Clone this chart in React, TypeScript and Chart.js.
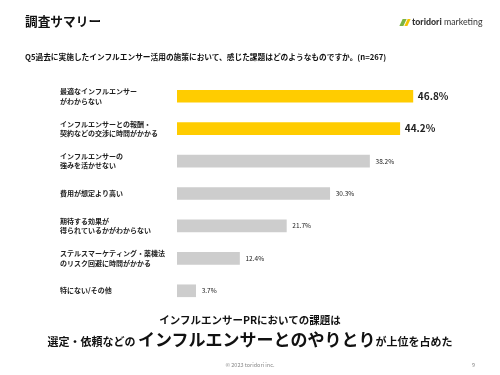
import React, { useEffect, useRef } from "react";
import { Chart, registerables } from "chart.js";

Chart.register(...registerables);

const categories: (string | string[])[] = [
  ["最適なインフルエンサー", "がわからない"],
  ["インフルエンサーとの報酬・", "契約などの交渉に時間がかかる"],
  ["インフルエンサーの", "強みを活かせない"],
  "費用が想定より高い",
  ["期待する効果が", "得られているかがわからない"],
  ["ステルスマーケティング・薬機法", "のリスク回避に時間がかかる"],
  "特にない/その他",
];
const values: number[] = [46.8, 44.2, 38.2, 30.3, 21.7, 12.4, 3.7];
const highlighted: boolean[] = [true, true, false, false, false, false, false];

const JP = '"Noto Sans CJK JP", "Noto Sans", sans-serif';

const valueLabelPlugin = {
  id: "valueLabels",
  afterDatasetsDraw(chart: any) {
    const ctx = chart.ctx;
    const meta = chart.getDatasetMeta(0);
    ctx.save();
    meta.data.forEach((bar: any, i: number) => {
      const big = highlighted[i];
      ctx.font = big ? `bold 10px ${JP}` : `6.5px ${JP}`;
      ctx.fillStyle = "#222";
      ctx.textAlign = "left";
      ctx.textBaseline = "middle";
      ctx.fillText(values[i].toFixed(1) + "%", bar.x + (big ? 5 : 6), bar.y);
    });
    ctx.restore();
  },
};

export default function App() {
  const ref = useRef<HTMLCanvasElement>(null);
  useEffect(() => {
    document.body.style.margin = "0";
    const chart = new Chart(ref.current!, {
      type: "bar",
      data: {
        labels: categories,
        datasets: [
          {
            data: values,
            backgroundColor: highlighted.map((h) => (h ? "#FFCC00" : "#CDCDCD")),
            barThickness: 12,
          },
        ],
      },
      options: {
        indexAxis: "y",
        animation: false,
        responsive: false,
        layout: { padding: { left: 60, top: 80, bottom: 68, right: 71 } },
        plugins: { legend: { display: false }, tooltip: { enabled: false } },
        scales: {
          x: { display: false, min: 0, max: 50 },
          y: {
            grid: { display: false },
            border: { display: false },
            afterFit: (scale: any) => {
              scale.width = 117;
            },
            ticks: {
              crossAlign: "far",
              color: "#222",
              font: { family: JP, size: 7, weight: "bold", lineHeight: 1.35 },
            },
          },
        },
      },
      plugins: [valueLabelPlugin],
    } as any);
    return () => chart.destroy();
  }, []);

  const abs = (s: React.CSSProperties): React.CSSProperties => ({
    position: "absolute",
    fontFamily: JP,
    color: "#111",
    whiteSpace: "nowrap",
    lineHeight: 1,
    ...s,
  });

  return (
    <div style={{ position: "relative", width: 500, height: 375, background: "#fff", overflow: "hidden" }}>
      <canvas ref={ref} width={500} height={375} style={{ position: "absolute", left: 0, top: 0 }} />
      <div style={abs({ left: 25, top: 15, fontSize: 12.7, fontWeight: 700 })}>調査サマリー</div>
      <div style={abs({ left: 401, top: 18, fontSize: 8.8, color: "#333", fontFamily: "Lato, 'Noto Sans', sans-serif" })}>
        <span
          style={{
            display: "inline-block",
            width: 4,
            height: 7,
            background: "#7cb342",
            transform: "skewX(-25deg)",
            marginRight: 1,
            verticalAlign: "-1px",
          }}
        />
        <span
          style={{
            display: "inline-block",
            width: 3,
            height: 7,
            background: "#f2c200",
            transform: "skewX(-25deg)",
            marginRight: 3,
            verticalAlign: "-1px",
          }}
        />
        <span style={{ fontWeight: 900 }}>toridori</span> <span>marketing</span>
      </div>
      <div style={abs({ left: 25, top: 53, fontSize: 7.7, fontWeight: 700 })}>
        Q5過去に実施したインフルエンサー活用の施策において、感じた課題はどのようなものですか。(n=267)
      </div>
      <div style={abs({ left: 0, width: 500, textAlign: "center", top: 315, fontSize: 10.5, fontWeight: 700 })}>
        インフルエンサーPRにおいての課題は
      </div>
      <div style={abs({ left: 0, width: 500, textAlign: "center", top: 330, fontSize: 11, fontWeight: 700 })}>
        <span>選定・依頼などの </span>
        <span style={{ fontSize: 17 }}>インフルエンサーとのやりとり</span>
        <span>が上位を占めた</span>
      </div>
      <div style={abs({ left: 0, width: 500, textAlign: "center", top: 363, fontSize: 5.5, color: "#888" })}>
        © 2023 toridori inc.
      </div>
      <div style={abs({ left: 472, top: 363, fontSize: 5.5, color: "#888" })}>9</div>
    </div>
  );
}
